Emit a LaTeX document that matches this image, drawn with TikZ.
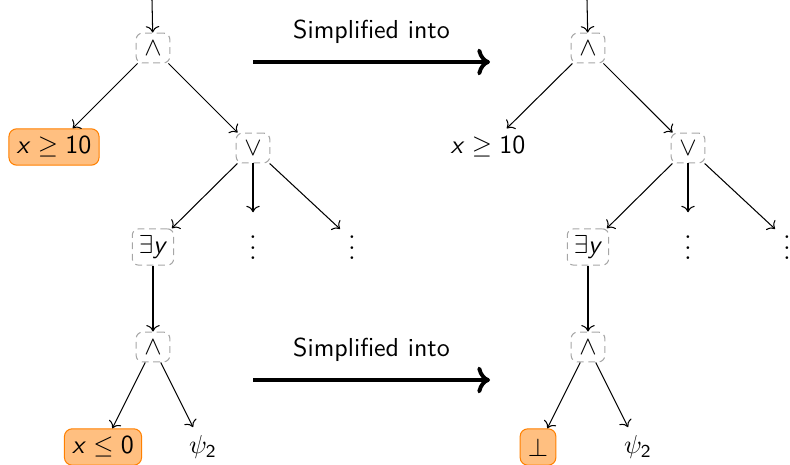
\documentclass[tikz,border=0pt]{standalone}
\usepackage{amssymb}
\usetikzlibrary{arrows.meta}
\newcommand{\vx}{\mbox{\sffamily\itshape x\/}}
\newcommand{\vy}{\mbox{\sffamily\itshape y\/}}
\begin{document}
\begin{tikzpicture}[x=0.385pt,y=-0.385pt,
  op/.style={draw=gray!70, dash pattern=on 2.6pt off 1.8pt, rounded corners=2.5pt, inner sep=2.5pt, minimum width=13pt, minimum height=11.5pt},
  hl/.style={draw=orange, fill=orange!50, rounded corners=3pt, inner sep=3pt, minimum height=14pt},
  plain/.style={inner sep=3pt},
  dots/.style={inner sep=3pt, anchor=south},
  edgearrow/.style={->},
  simp/.style={->, line width=1.5pt},
  lbl/.style={font=\sffamily}
  ]
\useasboundingbox (0,0) rectangle (790,465);
\clip (0,0) rectangle (790,465);
% ---------- left tree ----------
\coordinate (topL) at (152,0);
\node[op] (andL) at (153,48) {$\wedge$};
\node[hl] (geL) at (54,147) {$\vx \geq \mathsf{10}$};
\node[op] (orL) at (253,148) {$\vee$};
\node[op] (exL) at (153,247) {$\exists\vy$};
\node[dots] (d1L) at (253,268) {$\vdots$};
\node[dots] (d2L) at (352,268) {$\vdots$};
\node[op] (and2L) at (153,347) {$\wedge$};
\node[hl] (leL) at (103,447) {$\vx \leq \mathsf{0}$};
\node[plain] (psiL) at (203,447) {$\psi_{\mathsf{2}}$};
\draw[edgearrow] (topL) -- (andL);
\draw[edgearrow] (andL) -- (geL);
\draw[edgearrow] (andL) -- (orL);
\draw[edgearrow] (orL) -- (exL);
\draw[edgearrow] (orL) -- (d1L);
\draw[edgearrow] (orL) -- (d2L);
\draw[edgearrow] (exL) -- (and2L);
\draw[edgearrow] (and2L) -- (leL);
\draw[edgearrow] (and2L) -- (psiL);
% ---------- right tree ----------
\coordinate (topR) at (587,0);
\node[op] (andR) at (588,48) {$\wedge$};
\node[plain] (geR) at (488,147) {$\vx \geq \mathsf{10}$};
\node[op] (orR) at (688,148) {$\vee$};
\node[op] (exR) at (588,247) {$\exists\vy$};
\node[dots] (d1R) at (688,268) {$\vdots$};
\node[dots] (d2R) at (787,268) {$\vdots$};
\node[op] (and2R) at (588,347) {$\wedge$};
\node[hl] (botR) at (538,447) {$\bot$};
\node[plain] (psiR) at (638,447) {$\psi_{\mathsf{2}}$};
\draw[edgearrow] (topR) -- (andR);
\draw[edgearrow] (andR) -- (geR);
\draw[edgearrow] (andR) -- (orR);
\draw[edgearrow] (orR) -- (exR);
\draw[edgearrow] (orR) -- (d1R);
\draw[edgearrow] (orR) -- (d2R);
\draw[edgearrow] (exR) -- (and2R);
\draw[edgearrow] (and2R) -- (botR);
\draw[edgearrow] (and2R) -- (psiR);
% ---------- simplification arrows ----------
\coordinate (s1a) at (253,62);
\coordinate (s1b) at (490,62);
\coordinate (s2a) at (253,380);
\coordinate (s2b) at (490,380);
\draw[simp] (s1a) -- node[lbl, above=3pt] (l1) {Simplified into} (s1b);
\draw[simp] (s2a) -- node[lbl, above=3pt] (l2) {Simplified into} (s2b);
\end{tikzpicture}
\end{document}
